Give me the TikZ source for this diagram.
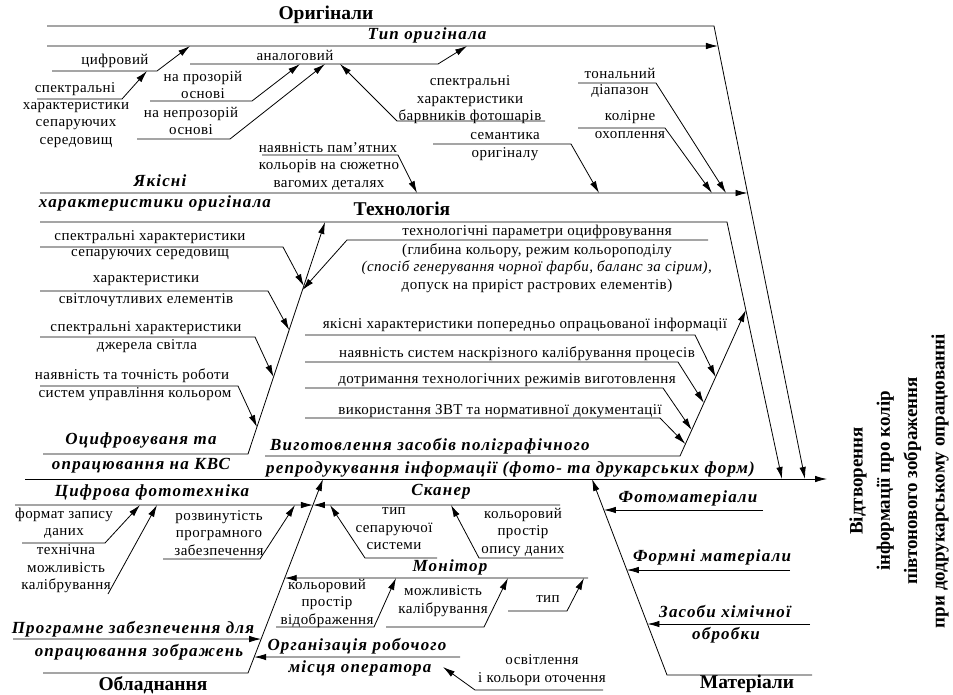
\documentclass[tikz,border=0pt]{standalone}
\usepackage{fontspec}
\setmainfont{Liberation Serif}
\newfontfamily\txtfont[LetterSpace=3]{Liberation Serif}
\newfontfamily\catfont[LetterSpace=7]{Liberation Serif}
\usetikzlibrary{
  arrows.meta,
  calc
}
\tikzset{
  % For plain bones.
  bone/.style={
    line width=0.8pt},
%
  % For bones ending in one arrow.
  arr/.style={
    bone,
    -{Latex[length=12pt,width=6.5pt]}},
%
  % For factor texts.
  txt/.style={
    inner sep=0pt,
    align=center,
    font=\txtfont\fontsize{15}{17.5}\selectfont},
%
  % For sub-categories.
  cat/.style={
    inner sep=0pt,
    align=center,
    font=\catfont\fontsize{17}{19}\selectfont\bfseries\itshape},
%
  % For main categories.
  main/.style={
    inner sep=0pt,
    font=\fontsize{19.5}{22}\selectfont\bfseries},
%
  % For the effect.
  effect/.style={
    inner sep=0pt,
    align=center,
    rotate=90,
    font=\fontsize{19}{27.3}\selectfont\bfseries}
}

\begin{document}
\begin{tikzpicture}[x=1pt, y=-1pt]
  \useasboundingbox (0,0) rectangle (953,694);

  % Spine.
  \coordinate (sp0) at (25,479);
  \coordinate (sp1) at (827,479);
  \draw[arr] (sp0) -- (sp1);
  \node[effect] (effect) at (899,481)
    {Відтворення\\інформації про колір\\півтонового зображення\\при додрукарському опрацюванні};

  % Originals.
  \coordinate (or0) at (47,26);
  \coordinate (or1) at (714,26);
  \coordinate (or2) at (805,479);
  \draw[arr] (or0) -- (or1) -- (or2);
  \node[main] (orig) at (326,15) {Оригінали};

  \coordinate (ty0) at (47,46);
  \coordinate (ty1) at (intersection of or1--or2 and 0,46--1,46);
  \draw[arr] (ty0) -- (ty1);
  \node[cat] (type) at (427,35) {Тип оригінала};

  \coordinate (di0) at (52,71);
  \coordinate (di1) at (157,71);
  \coordinate (di2) at (190,46);
  \draw[arr] (di0) -- (di1) -- (di2);
  \node[txt] (digital) at (115,61) {цифровий};

  \coordinate (sm0) at (37,99);
  \coordinate (sm1) at (122,99);
  \coordinate (sm2) at (147,71);
  \draw[arr] (sm0) -- (sm1) -- (sm2);
  \node[txt] (media a) at (75,89) {спектральні};
  \node[txt] (media b) at (76,125) {характеристики\\сепаруючих\\середовищ};

  \coordinate (an0) at (190,64);
  \coordinate (an1) at (438,64);
  \coordinate (an2) at (467,46);
  \draw[arr] (an0) -- (an1) -- (an2);
  \node[txt] (analog) at (295,55) {аналоговий};

  \coordinate (tp0) at (150,101);
  \coordinate (tp1) at (252,101);
  \coordinate (tp2) at (300,64);
  \draw[arr] (tp0) -- (tp1) -- (tp2);
  \node[txt] (transp) at (203,85) {на прозорій\\основі};

  \coordinate (op0) at (137,139);
  \coordinate (op1) at (230,139);
  \coordinate (op2) at (325,64);
  \draw[arr] (op0) -- (op1) -- (op2);
  \node[txt] (opaque) at (191,121) {на непрозорій\\основі};

  \coordinate (dy0) at (545,121);
  \coordinate (dy1) at (397,121);
  \coordinate (dy2) at (340,64);
  \draw[arr] (dy0) -- (dy1) -- (dy2);
  \node[txt] (dyes) at (470,100) {спектральні\\характеристики\\барвників фотошарів};

  \coordinate (qu0) at (40,193);
  \coordinate (qu1) at (intersection of or1--or2 and 0,193--1,193);
  \draw[arr] (qu0) -- (qu1);
  \node[cat] (quality a) at (160,181) {Якісні};
  \node[cat] (quality b) at (155,203) {характеристики оригінала};

  \coordinate (me0) at (262,155);
  \coordinate (me1) at (398,155);
  \coordinate (me2) at (417,193);
  \draw[arr] (me0) -- (me1) -- (me2);
  \node[txt] (memory a) at (328,148) {наявність пам’ятних};
  \node[txt] (memory b) at (329,175) {кольорів на сюжетно\\вагомих деталях};

  \coordinate (se0) at (433,144);
  \coordinate (se1) at (571,144);
  \coordinate (se2) at (599,193);
  \draw[arr] (se0) -- (se1) -- (se2);
  \node[txt] (sem a) at (505,136) {семантика};
  \node[txt] (sem b) at (505,154) {оригіналу};

  \coordinate (to0) at (578,83);
  \coordinate (to1) at (656,83);
  \coordinate (to2) at (726,193);
  \draw[arr] (to0) -- (to1) -- (to2);
  \node[txt] (tone a) at (620,73) {тональний};
  \node[txt] (tone b) at (620,91) {діапазон};

  \coordinate (ga0) at (578,128);
  \coordinate (ga1) at (665,128);
  \coordinate (ga2) at (712,193);
  \draw[arr] (ga0) -- (ga1) -- (ga2);
  \node[txt] (gamut a) at (630,117) {колірне};
  \node[txt] (gamut b) at (630,135) {охоплення};

  % Technology.
  \coordinate (te0) at (40,222);
  \coordinate (te1) at (727,222);
  \coordinate (te2) at (782,479);
  \draw[arr] (te0) -- (te1) -- (te2);
  \node[main] (tech) at (402,209) {Технологія};

  \coordinate (oc0) at (43,454);
  \coordinate (oc1) at (248,454);
  \coordinate (oc2) at (325,222);
  \draw[arr] (oc0) -- (oc1) -- (oc2);
  \node[cat] (scan a) at (141,440) {Оцифровуваня та};
  \node[cat] (scan b) at (141,466) {опрацювання на КВС};

  \coordinate (ss0) at (40,247);
  \coordinate (ss1) at (283,247);
  \coordinate (ss2) at (intersection of oc1--oc2 and 0,286--1,286);
  \draw[arr] (ss0) -- (ss1) -- (ss2);
  \node[txt] (sep a) at (150,237) {спектральні характеристики};
  \node[txt] (sep b) at (150,255) {сепаруючих середовищ};

  \coordinate (pa0) at (708,240);
  \coordinate (pa1) at (347,240);
  \coordinate (pa2) at (intersection of oc1--oc2 and 0,290--1,290);
  \draw[arr] (pa0) -- (pa1) -- (pa2);
  \node[txt] (param a) at (537,232) {технологічні параметри оцифровування};
  \node[txt] (param b) at (537,268)
    {(глибина кольору, режим кольороподілу\\
     \textit{(спосіб генерування чорної фарби, баланс за сірим),}\\
     допуск на приріст растрових елементів)};

  \coordinate (ls0) at (40,291);
  \coordinate (ls1) at (268,291);
  \coordinate (ls2) at (intersection of oc1--oc2 and 0,330--1,330);
  \draw[arr] (ls0) -- (ls1) -- (ls2);
  \node[txt] (sens a) at (146,281) {характеристики};
  \node[txt] (sens b) at (146,300) {світлочутливих елементів};

  \coordinate (li0) at (40,337);
  \coordinate (li1) at (255,337);
  \coordinate (li2) at (intersection of oc1--oc2 and 0,377--1,377);
  \draw[arr] (li0) -- (li1) -- (li2);
  \node[txt] (light a) at (146,328) {спектральні характеристики};
  \node[txt] (light b) at (147,346) {джерела світла};

  \coordinate (cm0) at (40,386);
  \coordinate (cm1) at (238,386);
  \coordinate (cm2) at (intersection of oc1--oc2 and 0,427--1,427);
  \draw[arr] (cm0) -- (cm1) -- (cm2);
  \node[txt] (cms a) at (132,376) {наявність та точність роботи};
  \node[txt] (cms b) at (135,394) {систем управління кольором};

  \coordinate (vy0) at (265,456);
  \coordinate (vy1) at (680,456);
  \coordinate (vy2) at (intersection of te1--te2 and 0,310--1,310);
  \draw[arr] (vy0) -- (vy1) -- (vy2);
  \node[cat, anchor=west] (plates a) at (270,446) {Виготовлення засобів поліграфічного};
  \node[cat, anchor=west] (plates b) at (266,469) {репродукування інформації (фото- та друкарських форм)};

  \coordinate (pi0) at (305,335);
  \coordinate (pi1) at (695,335);
  \coordinate (pi2) at (intersection of vy1--vy2 and 0,377--1,377);
  \draw[arr] (pi0) -- (pi1) -- (pi2);
  \node[txt] (prev) at (525,325) {якісні характеристики попередньо опрацьованої інформації};

  \coordinate (ca0) at (305,362);
  \coordinate (ca1) at (678,362);
  \coordinate (ca2) at (intersection of vy1--vy2 and 0,403--1,403);
  \draw[arr] (ca0) -- (ca1) -- (ca2);
  \node[txt] (calib) at (517,354) {наявність систем наскрізного калібрування процесів};

  \coordinate (mo0) at (305,388);
  \coordinate (mo1) at (663,388);
  \coordinate (mo2) at (intersection of vy1--vy2 and 0,430--1,430);
  \draw[arr] (mo0) -- (mo1) -- (mo2);
  \node[txt] (modes) at (507,380) {дотримання технологічних режимів виготовлення};

  \coordinate (zv0) at (305,418);
  \coordinate (zv1) at (660,418);
  \coordinate (zv2) at (intersection of vy1--vy2 and 0,444--1,444);
  \draw[arr] (zv0) -- (zv1) -- (zv2);
  \node[txt] (docs) at (500,411) {використання ЗВТ та нормативної документації};

  % Equipment.
  \coordinate (ob0) at (43,673);
  \coordinate (ob1) at (248,673);
  \coordinate (ob2) at (323,479);
  \draw[arr] (ob0) -- (ob1) -- (ob2);
  \node[main] (equip) at (153,685) {Обладнання};

  \coordinate (cf0) at (15,505);
  \coordinate (cf1) at (intersection of ob1--ob2 and 0,505--1,505);
  \draw[arr] (cf0) -- (cf1);
  \node[cat] (camera) at (152,492) {Цифрова фототехніка};

  \coordinate (fo0) at (22,543);
  \coordinate (fo1) at (105,543);
  \coordinate (fo2) at (140,505);
  \draw[arr] (fo0) -- (fo1) -- (fo2);
  \node[txt] (format) at (64,523) {формат запису\\даних};

  \coordinate (tc0) at (108,594);
  \coordinate (tc1) at (157,505);
  \draw[arr] (tc0) -- (tc1);
  \node[txt] (techcal) at (66,569) {технічна\\можливість\\калібрування};

  \coordinate (sw0) at (163,559);
  \coordinate (sw1) at (260,559);
  \coordinate (sw2) at (295,505);
  \draw[arr] (sw0) -- (sw1) -- (sw2);
  \node[txt] (soft) at (219,533) {розвинутість\\програмного\\забезпечення};

  \coordinate (sk0) at (560,505);
  \coordinate (sk1) at (intersection of ob1--ob2 and 0,505--1,505);
  \draw[arr] (sk0) -- (sk1);
  \node[cat] (scanner) at (441,492) {Сканер};

  \coordinate (st0) at (437,558);
  \coordinate (st1) at (365,558);
  \coordinate (st2) at (330,505);
  \draw[arr] (st0) -- (st1) -- (st2);
  \node[txt] (septype) at (394,529) {тип\\сепаруючої\\системи};

  \coordinate (cs0) at (563,558);
  \coordinate (cs1) at (479,558);
  \coordinate (cs2) at (451,505);
  \draw[arr] (cs0) -- (cs1) -- (cs2);
  \node[txt] (space) at (523,532) {кольоровий\\простір\\опису даних};

  \coordinate (mn0) at (588,578);
  \coordinate (mn1) at (intersection of ob1--ob2 and 0,578--1,578);
  \draw[arr] (mn0) -- (mn1);
  \node[cat] (monitor) at (450,567) {Монітор};

  \coordinate (dp0) at (276,627);
  \coordinate (dp1) at (374,627);
  \coordinate (dp2) at (396,578);
  \draw[arr] (dp0) -- (dp1) -- (dp2);
  \node[txt] (display) at (327,603) {кольоровий\\простір\\відображення};

  \coordinate (mc0) at (386,627);
  \coordinate (mc1) at (484,627);
  \coordinate (mc2) at (508,578);
  \draw[arr] (mc0) -- (mc1) -- (mc2);
  \node[txt] (moncal) at (443,601) {можливість\\калібрування};

  \coordinate (mt0) at (508,611);
  \coordinate (mt1) at (567,611);
  \coordinate (mt2) at (584,578);
  \draw[arr] (mt0) -- (mt1) -- (mt2);
  \node[txt] (montype) at (548,599) {тип};

  \coordinate (pr0) at (13,639);
  \coordinate (pr1) at (intersection of ob1--ob2 and 0,639--1,639);
  \draw[arr] (pr0) -- (pr1);
  \node[cat] (prog a) at (133,629) {Програмне забезпечення для};
  \node[cat] (prog b) at (139,652) {опрацювання зображень};

  \coordinate (wp0) at (460,657);
  \coordinate (wp1) at (intersection of ob1--ob2 and 0,657--1,657);
  \draw[arr] (wp0) -- (wp1);
  \node[cat] (place a) at (357,646) {Організація робочого};
  \node[cat] (place b) at (360,668) {місця оператора};

  \coordinate (il0) at (603,690);
  \coordinate (il1) at (475,690);
  \coordinate (il2) at (443,667);
  \draw[arr] (il0) -- (il1) -- (il2);
  \node[txt] (illum) at (542,670) {освітлення\\і кольори оточення};

  % Materials.
  \coordinate (ma0) at (812,675);
  \coordinate (ma1) at (667,675);
  \coordinate (ma2) at (592,479);
  \draw[arr] (ma0) -- (ma1) -- (ma2);
  \node[main] (mater) at (747,684) {Матеріали};

  \coordinate (ph0) at (763,510);
  \coordinate (ph1) at (intersection of ma1--ma2 and 0,510--1,510);
  \draw[arr] (ph0) -- (ph1);
  \node[cat] (photo) at (688,498) {Фотоматеріали};

  \coordinate (fm0) at (790,570);
  \coordinate (fm1) at (intersection of ma1--ma2 and 0,570--1,570);
  \draw[arr] (fm0) -- (fm1);
  \node[cat] (formm) at (712,557) {Формні матеріали};

  \coordinate (ch0) at (810,624);
  \coordinate (ch1) at (intersection of ma1--ma2 and 0,624--1,624);
  \draw[arr] (ch0) -- (ch1);
  \node[cat] (chem a) at (725,612) {Засоби хімічної};
  \node[cat] (chem b) at (726,635) {обробки};
\end{tikzpicture}
\end{document}
